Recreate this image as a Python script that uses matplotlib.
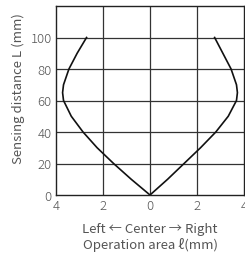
import matplotlib
matplotlib.use("Agg")
import matplotlib.pyplot as plt

# Data
left_L = [0, 10, 20, 30, 40, 50, 60, 65, 70, 80, 90, 100]
left_x = [0, -0.8, -1.55, -2.25, -2.85, -3.35, -3.68, -3.72, -3.68, -3.45, -3.1, -2.7]
right_L = [0, 10, 20, 30, 40, 50, 60, 65, 70, 80, 90, 100]
right_x = [0, 0.75, 1.45, 2.15, 2.8, 3.33, 3.68, 3.72, 3.68, 3.45, 3.1, 2.75]
xticks = [-4, -2, 0, 2, 4]
xticklabels = ["4", "2", "0", "2", "4"]
yticks = [0, 20, 40, 60, 80, 100]

plt.rcParams['font.family'] = ['Noto Sans CJK JP', 'DejaVu Sans']
plt.rcParams['font.weight'] = 'light'
fig = plt.figure(figsize=(2.45, 2.55), dpi=100)
ax = fig.add_axes([56/245, 59/255, 188/245, 189/255])

tc = '#555555'
gc = '#333333'
ax.plot(left_x, left_L, color='#111111', lw=1.2)
ax.plot(right_x, right_L, color='#111111', lw=1.2)
ax.set_xlim(-4, 4)
ax.set_ylim(0, 120)
ax.set_xticks(xticks)
ax.set_xticklabels(xticklabels)
ax.set_yticks(yticks)
for x in [-2, 0, 2]:
    ax.axvline(x, color=gc, lw=0.9, zorder=0)
for y in yticks[1:]:
    ax.axhline(y, color=gc, lw=0.9, zorder=0)
ax.tick_params(length=0, labelsize=9.5, labelcolor=tc, pad=3)
for s in ax.spines.values():
    s.set_color('#222222')
    s.set_linewidth(1)
ax.set_ylabel("Sensing distance L (mm)", fontsize=9.5, color=tc)
ax.yaxis.set_label_coords(-0.165, 0.571)
ax.set_xlabel("Left ← Center → Right\nOperation area ℓ(mm)", fontsize=9.5,
              color=tc, labelpad=7, linespacing=1.15)
fig.savefig("out.png", dpi=100)
